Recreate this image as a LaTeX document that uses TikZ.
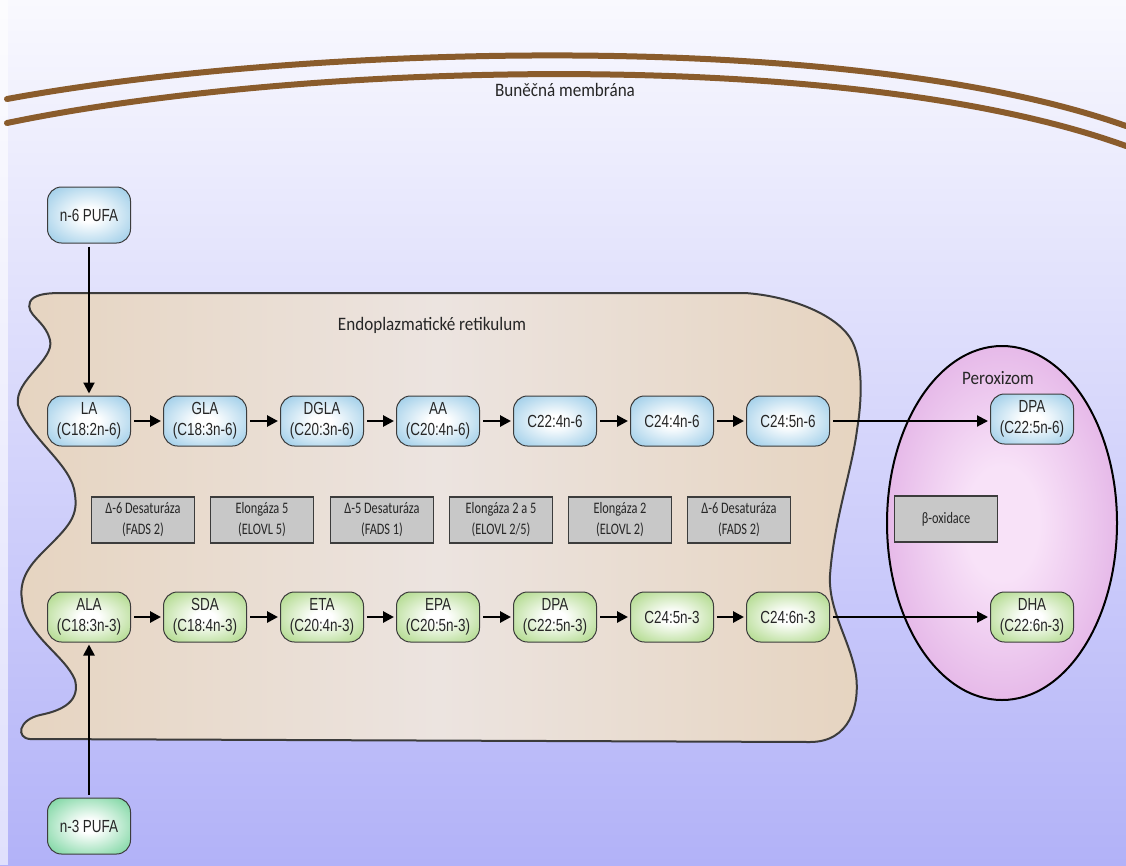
\documentclass[tikz,border=0pt]{standalone}
\usepackage{fontspec}
\setmainfont{Liberation Sans}
\newfontfamily\labfont[FakeStretch=0.9]{Carlito}
\newfontfamily\enzfont[FakeStretch=0.77]{Carlito}
\newfontfamily\nfont[FakeStretch=0.77]{Liberation Sans}
\usetikzlibrary{arrows.meta,shapes.geometric}
\definecolor{bgtop}{RGB}{249,249,254}
\definecolor{bgbot}{RGB}{178,178,248}
\definecolor{memb}{RGB}{138,92,44}
\definecolor{ertan}{RGB}{230,212,192}
\definecolor{erlight}{RGB}{236,228,224}
\definecolor{nblue}{RGB}{140,196,228}
\definecolor{ngreen}{RGB}{160,210,116}
\definecolor{nmint}{RGB}{100,206,144}
\definecolor{enzgray}{RGB}{200,200,200}
\definecolor{perox}{RGB}{208,136,214}
\definecolor{peroxin}{RGB}{248,226,248}
\definecolor{edge}{RGB}{60,60,60}
\pgfdeclareradialshading{shblue}{\pgfpoint{0bp}{0bp}}{color(0bp)=(white); color(6bp)=(white); color(38bp)=(nblue); color(50bp)=(nblue)}
\pgfdeclareradialshading{shgreen}{\pgfpoint{0bp}{0bp}}{color(0bp)=(white); color(6bp)=(white); color(38bp)=(ngreen); color(50bp)=(ngreen)}
\pgfdeclareradialshading{shmint}{\pgfpoint{0bp}{0bp}}{color(0bp)=(white); color(6bp)=(white); color(38bp)=(nmint); color(50bp)=(nmint)}
\pgfdeclareradialshading{shperox}{\pgfpoint{0bp}{0bp}}{color(0bp)=(peroxin); color(8bp)=(peroxin); color(46bp)=(perox); color(50bp)=(perox)}
\begin{document}
\begin{tikzpicture}[x=1pt,y=-1pt,
  fa/.style={draw=edge, line width=1pt, rounded corners=14pt, minimum width=83pt, minimum height=50pt, inner sep=0pt, align=center, font=\nfont\fontsize{17.5}{21}\selectfont, text=black!85},
  fablue/.style={fa, shading=shblue},
  fagreen/.style={fa, shading=shgreen},
  famint/.style={fa, shading=shmint, minimum height=56pt},
  enz/.style={draw=edge, line width=1.3pt, fill=enzgray, minimum width=103pt, minimum height=46pt, inner sep=0pt, align=center, font=\enzfont\fontsize{16}{21}\selectfont, text=black!85},
  arr/.style={line width=2.7pt, -{Triangle[length=11pt,width=11pt]}, shorten >=2pt, shorten <=3pt},
  lab/.style={font=\labfont\fontsize{19}{22}\selectfont, text=black!85}
]
\useasboundingbox (0,0) rectangle (1126,865);
% background
\fill[top color=bgtop, bottom color=bgbot] (0,0) rectangle (1126,865);
\fill[white, opacity=0.6] (0,0) rectangle (8,865);
% cell membrane
\draw[memb, line width=6pt, line cap=round] (7,99) .. controls (300,45) and (850,28) .. (1126,126);
\draw[memb, line width=6pt, line cap=round] (7,123) .. controls (300,62) and (850,46) .. (1126,146);
\node[lab] (membl) at (565,90) {Buněčná membrána};
% endoplasmic reticulum
\draw[edge, line width=2pt, left color=ertan, right color=ertan, middle color=erlight]
  (60,293) -- (745,293)
  .. controls (790,296) and (840,315) .. (853,343)
  .. controls (863,365) and (862,400) .. (857,430)
  .. controls (852,470) and (834,520) .. (830,575)
  .. controls (828,610) and (850,640) .. (856,675)
  .. controls (860,705) and (850,742) .. (810,742)
  -- (30,739)
  .. controls (16,738) and (18,720) .. (40,715)
  .. controls (65,710) and (80,700) .. (75,680)
  .. controls (65,655) and (25,635) .. (22,600)
  .. controls (18,575) and (35,560) .. (50,545)
  .. controls (70,525) and (78,515) .. (75,495)
  .. controls (73,465) and (30,440) .. (18,405)
  .. controls (14,380) and (55,360) .. (50,340)
  .. controls (45,320) and (25,315) .. (30,302)
  .. controls (33,295) and (45,293) .. (60,293) -- cycle;
\node[lab] (erl) at (432,325) {Endoplazmatické retikulum};
% peroxisome
\draw[black, line width=2pt, shading=shperox] (1002,523) ellipse[x radius=115, y radius=177];
\node[lab] (pxl) at (998,378) {Peroxizom};
% PUFA sources
\node[fablue, minimum height=56pt] (n6) at (89,215) {n-6 PUFA};
\node[famint] (n3) at (89,826) {n-3 PUFA};
% n-6 row
\node[fablue] (la) at (89,421) {LA\\(C18:2n-6)};
\node[fablue] (gla) at (205,421) {GLA\\(C18:3n-6)};
\node[fablue] (dgla) at (322,421) {DGLA\\(C20:3n-6)};
\node[fablue] (aa) at (438,421) {AA\\(C20:4n-6)};
\node[fablue] (c224) at (555,421) {C22:4n-6};
\node[fablue] (c244) at (672,421) {C24:4n-6};
\node[fablue] (c245) at (788,421) {C24:5n-6};
\node[fablue] (dpa6) at (1032,419) {DPA\\(C22:5n-6)};
% n-3 row
\node[fagreen] (ala) at (89,617) {ALA\\(C18:3n-3)};
\node[fagreen] (sda) at (205,617) {SDA\\(C18:4n-3)};
\node[fagreen] (eta) at (322,617) {ETA\\(C20:4n-3)};
\node[fagreen] (epa) at (438,617) {EPA\\(C20:5n-3)};
\node[fagreen] (dpa3) at (555,617) {DPA\\(C22:5n-3)};
\node[fagreen] (c245b) at (672,617) {C24:5n-3};
\node[fagreen] (c246) at (788,617) {C24:6n-3};
\node[fagreen] (dha) at (1032,617) {DHA\\(C22:6n-3)};
% enzymes
\node[enz] (e1) at (143,520) {Δ-6 Desaturáza\\(FADS 2)};
\node[enz] (e2) at (262,520) {Elongáza 5\\(ELOVL 5)};
\node[enz] (e3) at (382,520) {Δ-5 Desaturáza\\(FADS 1)};
\node[enz] (e4) at (501,520) {Elongáza 2 a 5\\(ELOVL 2/5)};
\node[enz] (e5) at (620,520) {Elongáza 2\\(ELOVL 2)};
\node[enz] (e6) at (739,520) {Δ-6 Desaturáza\\(FADS 2)};
\node[enz] (box) at (946,519) {β-oxidace};
% arrows
\draw[arr, line width=2pt] (n6) -- (la);
\draw[arr, line width=2.4pt] (n3) -- (ala);
\draw[arr] (la) -- (gla);
\draw[arr] (gla) -- (dgla);
\draw[arr] (dgla) -- (aa);
\draw[arr] (aa) -- (c224);
\draw[arr] (c224) -- (c244);
\draw[arr] (c244) -- (c245);
\draw[arr, line width=2pt] (c245) -- (c245 -| dpa6.west);
\draw[arr] (ala) -- (sda);
\draw[arr] (sda) -- (eta);
\draw[arr] (eta) -- (epa);
\draw[arr] (epa) -- (dpa3);
\draw[arr] (dpa3) -- (c245b);
\draw[arr] (c245b) -- (c246);
\draw[arr, line width=2pt] (c246) -- (dha);
\end{tikzpicture}
\end{document}
